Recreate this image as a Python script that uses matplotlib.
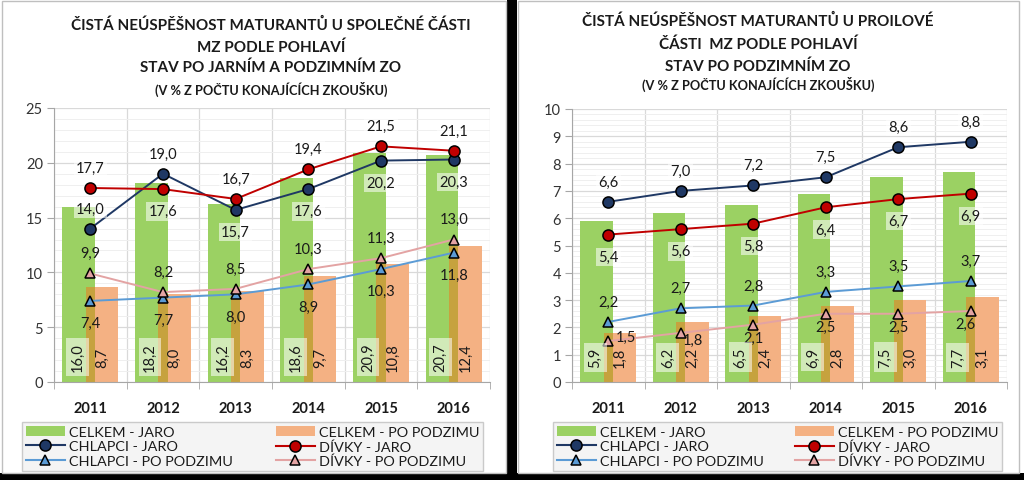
import numpy as np
import matplotlib
matplotlib.use("Agg")
import matplotlib.pyplot as plt
from matplotlib.patches import Rectangle, Patch
from matplotlib.lines import Line2D

plt.rcParams["font.family"] = ["Lato", "DejaVu Sans"]

years = ["2011", "2012", "2013", "2014", "2015", "2016"]

# left panel - spolecna cast
l_celkem_jaro = [16.0, 18.2, 16.2, 18.6, 20.9, 20.7]
l_celkem_podzim = [8.7, 8.0, 8.3, 9.7, 10.8, 12.4]
l_chlapci_jaro = [14.0, 19.0, 15.7, 17.6, 20.2, 20.3]
l_divky_jaro = [17.7, 17.6, 16.7, 19.4, 21.5, 21.1]
l_chlapci_podzim = [7.4, 7.7, 8.0, 8.9, 10.3, 11.8]
l_divky_podzim = [9.9, 8.2, 8.5, 10.3, 11.3, 13.0]

# right panel - profilova cast
r_celkem_jaro = [5.9, 6.2, 6.5, 6.9, 7.5, 7.7]
r_celkem_podzim = [1.8, 2.2, 2.4, 2.8, 3.0, 3.1]
r_chlapci_jaro = [6.6, 7.0, 7.2, 7.5, 8.6, 8.8]
r_divky_jaro = [5.4, 5.6, 5.8, 6.4, 6.7, 6.9]
r_chlapci_podzim = [2.2, 2.7, 2.8, 3.3, 3.5, 3.7]
r_divky_podzim = [1.5, 1.8, 2.1, 2.5, 2.5, 2.6]

left_title = ["ČISTÁ NEÚSPĚŠNOST MATURANTŮ U SPOLEČNÉ ČÁSTI",
              "MZ PODLE POHLAVÍ",
              "STAV PO JARNÍM A PODZIMNÍM ZO",
              "(V % Z POČTU KONAJÍCÍCH ZKOUŠKU)"]
right_title = ["ČISTÁ NEÚSPĚŠNOST MATURANTŮ U PROILOVÉ",
               "ČÁSTI  MZ PODLE POHLAVÍ",
               "STAV PO PODZIMNÍM ZO",
               "(V % Z POČTU KONAJÍCÍCH ZKOUŠKU)"]

GREEN = "#9BD163"
ORANGE = "#F4B183"
OVERLAP = "#C6A23E"
NAVY = "#1F3864"
RED = "#C00000"
LBLUE = "#5B9BD5"
PINK = "#E3A3A3"
TXT = "#1a1a1a"

W, H = 1024, 481
fig = plt.figure(figsize=(W / 100, H / 100), dpi=100, facecolor="white")

# panel frames and black separators
fig.patches.append(Rectangle((0, 0), 1, 7 / H, transform=fig.transFigure,
                             facecolor="black", edgecolor="none", zorder=0))
fig.patches.append(Rectangle((507 / W, 0), 10 / W, 1, transform=fig.transFigure,
                             facecolor="black", edgecolor="none", zorder=0))
fig.patches.append(Rectangle((1.5 / W, 7.5 / H), 504 / W, 472 / H, transform=fig.transFigure,
                             facecolor="none", edgecolor="#BFBFBF", lw=1, zorder=1))
fig.patches.append(Rectangle((518 / W, 7.5 / H), 501 / W, 472 / H, transform=fig.transFigure,
                             facecolor="none", edgecolor="#BFBFBF", lw=1, zorder=1))


def fmt(v):
    return f"{v:.1f}".replace(".", ",")


def draw_panel(ax, cj, cp, chj, dj, chp, dp, ymax, major, minor, pos, box_series):
    x = np.arange(len(years))
    bw = 0.45
    off = 0.16
    ax.bar(x - off, cj, bw, color=GREEN, zorder=2)
    ax.bar(x + off, cp, bw, color=ORANGE, zorder=2)
    # overlap of the two bars
    ov = (x - off + bw / 2) - (x + off - bw / 2)
    ax.bar((x - off + bw / 2 + x + off - bw / 2) / 2, cp, ov, color=OVERLAP, zorder=2.5)

    series = [
        (chj, NAVY, NAVY, "o"),
        (dj, RED, RED, "o"),
        (chp, LBLUE, LBLUE, "^"),
        (dp, PINK, PINK, "^"),
    ]
    for i, (vals, lc, fc, mk) in enumerate(series):
        ax.plot(x, vals, color=lc, lw=1.4, zorder=4)
        ax.plot(x, vals, ls="none", marker=mk, ms=8 if mk == "o" else 7.5,
                mfc=fc, mec="black", mew=1.1, zorder=5)
        for j, v in enumerate(vals):
            p = pos[i][j]
            if isinstance(p, tuple):
                xy = p
            elif p == "a":
                xy = (0, 14.5)
            else:
                xy = (0, -16)
            bb = None
            if box_series[i]:
                bb = dict(boxstyle="square,pad=0.15", facecolor="white", alpha=0.55, edgecolor="none")
            ax.annotate(fmt(v), (x[j], v), xytext=xy,
                        textcoords="offset points", ha="center", va="center", fontsize=10.5,
                        color=TXT, zorder=6, bbox=bb)

    # bar value labels, rotated at the bottom
    for j in range(len(years)):
        ax.annotate(fmt(cj[j]), (x[j] - off - 0.02, 0), xytext=(0, 18),
                    textcoords="offset points", rotation=90, ha="center", va="center",
                    fontsize=10.5, color=TXT, zorder=6,
                    bbox=dict(boxstyle="square,pad=0.3", facecolor="white", alpha=0.55, edgecolor="none"))
        ax.annotate(fmt(cp[j]), (x[j] + off, 0), xytext=(0, 18),
                    textcoords="offset points", rotation=90, ha="center", va="center",
                    fontsize=10.5, color=TXT, zorder=6)

    ax.set_xlim(-0.5, len(years) - 0.5)
    ax.set_ylim(0, ymax)
    ax.set_yticks(np.arange(0, ymax + 0.01, major))
    ax.set_yticks(np.arange(0, ymax + 0.01, minor), minor=True)
    ax.set_xticks(x)
    ax.set_xticklabels(years, fontsize=10.5, fontweight="bold", color=TXT)
    ax.set_xticks(np.arange(-0.5, len(years)), minor=True)
    ax.tick_params(axis="x", which="major", length=0, pad=14)
    ax.tick_params(axis="x", which="minor", length=5, color="#A6A6A6")
    ax.tick_params(axis="y", which="major", length=5, color="#A6A6A6", labelsize=10.5,
                   labelcolor="#333333", pad=3)
    ax.tick_params(axis="y", which="minor", length=0)
    ax.grid(axis="y", which="major", color="#D9D9D9", lw=0.9, zorder=0)
    ax.grid(axis="y", which="minor", color="#EFEFEF", lw=0.7, zorder=0)
    ax.grid(axis="x", which="minor", color="#D9D9D9", lw=0.9, zorder=0)
    ax.set_axisbelow(True)
    for s in ["top", "right"]:
        ax.spines[s].set_visible(False)
    for s in ["left", "bottom"]:
        ax.spines[s].set_color("#A6A6A6")

    # column-major order for a 2-column legend read row by row
    handles = [
        Patch(facecolor=GREEN, edgecolor="none", label="CELKEM - JARO"),
        Line2D([], [], color=NAVY, marker="o", ms=8, mfc=NAVY, mec="black", mew=1.1, label="CHLAPCI - JARO"),
        Line2D([], [], color=LBLUE, marker="^", ms=7.5, mfc=LBLUE, mec="black", mew=1.1, label="CHLAPCI - PO PODZIMU"),
        Patch(facecolor=ORANGE, edgecolor="none", label="CELKEM - PO PODZIMU"),
        Line2D([], [], color=RED, marker="o", ms=8, mfc=RED, mec="black", mew=1.1, label="DÍVKY - JARO"),
        Line2D([], [], color=PINK, marker="^", ms=7.5, mfc=PINK, mec="black", mew=1.1, label="DÍVKY - PO PODZIMU"),
    ]
    return handles


pos_left = [
    ["a", "a", "b", "b", "b", "b"],
    ["a", "b", "a", "a", "a", "a"],
    ["b", "b", "b", "b", "b", "b"],
    ["a", "a", "a", "a", "a", "a"],
]
pos_right = [
    ["a", "a", "a", "a", "a", "a"],
    ["b", "b", "b", "b", "b", "b"],
    ["a", "a", "a", "a", "a", "a"],
    [(13, 3), (9, -5), (0, -9.5), (0, -9.5), (0, -9.5), (-4, -9.5)],
]

ax1 = fig.add_axes([54 / W, 1 - 383 / H, 436 / W, 274 / H])
h1 = draw_panel(ax1, l_celkem_jaro, l_celkem_podzim, l_chlapci_jaro, l_divky_jaro,
                l_chlapci_podzim, l_divky_podzim, 25, 5, 1, pos_left,
                [True, True, False, False])
ax2 = fig.add_axes([572 / W, 1 - 383 / H, 435 / W, 273 / H])
h2 = draw_panel(ax2, r_celkem_jaro, r_celkem_podzim, r_chlapci_jaro, r_divky_jaro,
                r_chlapci_podzim, r_divky_podzim, 10, 1, 0.2, pos_right,
                [True, True, False, False])

for hs, (x0, x1) in [(h1, (22, 483)), (h2, (553, 1002))]:
    leg = fig.legend(handles=hs, ncol=2, loc="lower left",
                     bbox_to_anchor=(x0 / W, 9 / H, (x1 - x0) / W, 54 / H),
                     mode="expand", fontsize=10.4, frameon=True, fancybox=False,
                     handlelength=2.7, handletextpad=0.3, labelspacing=0.15,
                     borderpad=0.25, borderaxespad=0, columnspacing=1.0)
    leg.get_frame().set_facecolor("#F2F2F2")
    leg.get_frame().set_edgecolor("#BFBFBF")
    leg.get_frame().set_linewidth(1.0)
    for t in leg.get_texts():
        t.set_color(TXT)

for lines, cx, ys in [(left_title, 271, [25, 48, 68, 89]), (right_title, 758, [21, 45, 67, 84])]:
    for k, (ln, yy) in enumerate(zip(lines, ys)):
        fig.text(cx / W, 1 - yy / H, ln, ha="center", va="center",
                 fontsize=11 if k < 3 else 9.2, fontweight="bold", color=TXT)

fig.savefig("out.png", dpi=100, facecolor="white")
